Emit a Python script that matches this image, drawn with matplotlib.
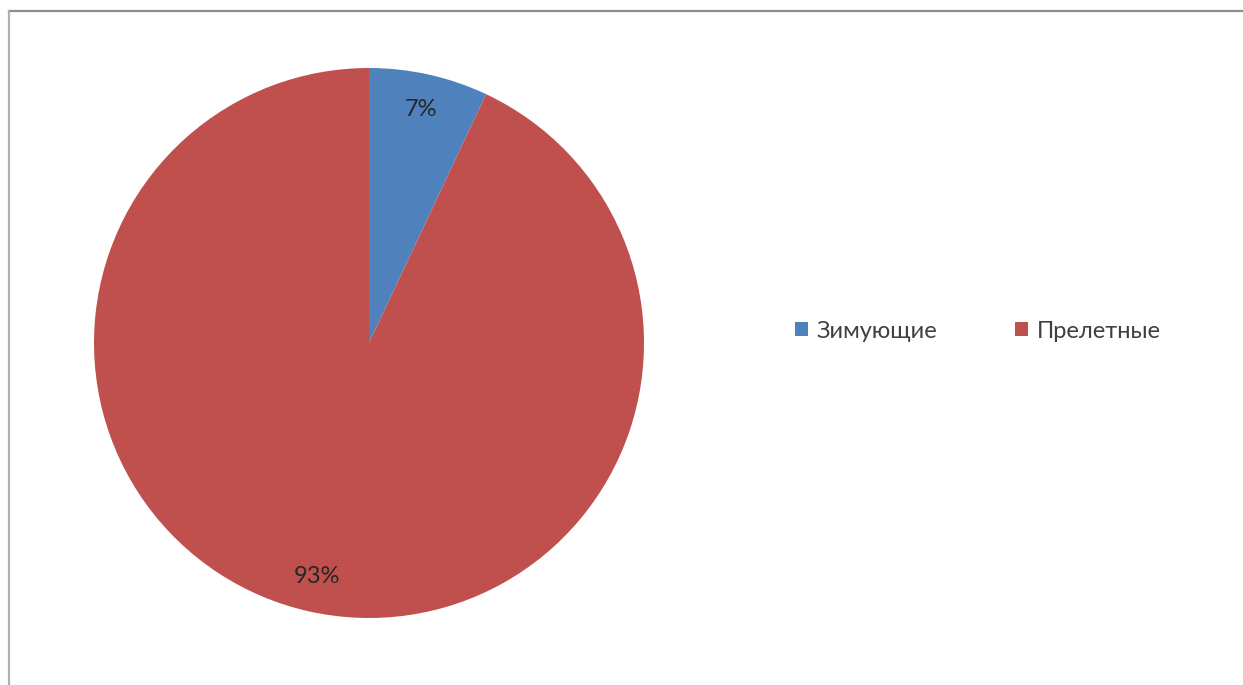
import matplotlib.pyplot as plt
from matplotlib.lines import Line2D
from matplotlib.patches import Patch

categories = ["Зимующие", "Прелетные"]
values = [7, 93]
colors = ["#4F81BD", "#C0504D"]

plt.rcParams['font.family'] = ['Lato', 'DejaVu Sans']

fig = plt.figure(figsize=(12.43, 6.85), dpi=100)
W, H = 1243, 685
cx, cy, r = 369, 343, 275
ax = fig.add_axes([(cx - r) / W, (H - cy - r) / H, 2 * r / W, 2 * r / H])

wedges, texts, autotexts = ax.pie(values, colors=colors, startangle=90, counterclock=False,
                                  autopct='%1.0f%%', pctdistance=0.87,
                                  textprops={'fontsize': 17, 'color': '#262626'})
ax.set_xlim(-1, 1)
ax.set_ylim(-1, 1)
ax.set_aspect('equal')

handles = [Patch(facecolor=c, edgecolor='none') for c in colors]
fig.legend(handles, categories, loc='center', bbox_to_anchor=(978 / W, 1 - 331 / H),
           ncol=2, frameon=False, fontsize=17, handlelength=0.55, handleheight=0.55,
           handletextpad=0.35, columnspacing=3.3, labelcolor='#404040')

# рамка
fig.add_artist(Line2D([9 / W, 1], [1 - 11 / H, 1 - 11 / H], color='#8c8c8c', lw=1.6))
fig.add_artist(Line2D([9 / W, 9 / W], [0, 1 - 11 / H], color='#b0b0b0', lw=1.6))

fig.savefig('out.png', dpi=100)
